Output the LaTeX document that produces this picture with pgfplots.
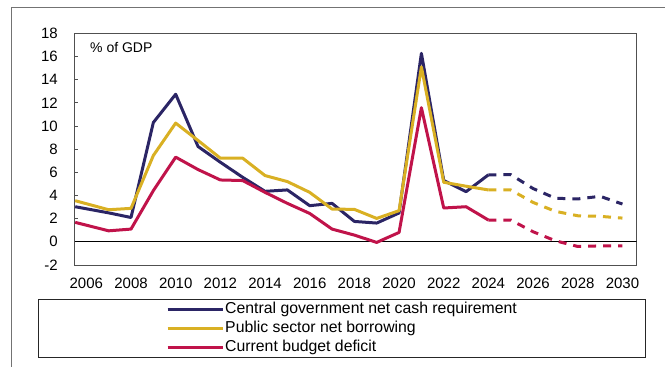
\documentclass[border=0pt]{standalone}
\usepackage{pgfplots}
\pgfplotsset{compat=1.18}
\usepackage{fontspec}
\setmainfont{Liberation Sans}
\definecolor{cgncr}{HTML}{2B2565}
\definecolor{psnb}{HTML}{D9B023}
\definecolor{cbd}{HTML}{C0134A}
\definecolor{framegray}{HTML}{505050}
\begin{document}
\begin{tikzpicture}
\useasboundingbox (0,0) rectangle (665bp,367bp);
\draw[framegray!80, line width=0.9bp] (11.7bp,-2bp) -- (11.7bp,360bp) -- (670bp,360bp);
\begin{axis}[
  at={(74.5bp,102bp)}, anchor=south west,
  scale only axis, width=562bp, height=231.7bp,
  xmin=2005.47, xmax=2030.63, ymin=-2, ymax=18,
  xtick={2006,2008,...,2030}, ytick={-2,0,...,18},
  /pgf/number format/assume math mode=true,
  /pgf/number format/1000 sep={},
  font=\fontsize{15bp}{18bp}\selectfont,
  ticklabel style={font=\fontsize{15bp}{18bp}\selectfont},
  yticklabel style={inner sep=0pt, anchor=east, xshift=-16.5bp},
  xticklabel style={inner sep=0pt, anchor=north, yshift=-13bp},
  ytick pos=left, tick align=inside, major tick length=3bp,
  xtick style={draw=none},
  ytick style={framegray, line width=0.8bp},
  axis line style={framegray, line width=0.9bp},
  legend style={at={(0.476,-0.1467)}, anchor=north, draw=black!85, line width=0.8bp,
    inner xsep=128bp, inner ysep=2bp, row sep=3bp,
    nodes={inner sep=1bp, text height=11bp, text depth=3bp},
    font=\fontsize{15.8bp}{18bp}\selectfont},
  legend cell align=left,
  legend image code/.code={\draw[#1, line width=3bp] (0bp,0bp) -- (55bp,0bp);},
  every axis plot/.append style={line width=3bp, line join=round},
  clip=true,
]
\draw[black, line width=0.8bp] (axis cs:2005.47,0) -- (axis cs:2030.63,0);
\addplot[cgncr] coordinates {(2005.5,3.03) (2007,2.5) (2008,2.1) (2009,10.3) (2010,12.74) (2011,8.23) (2012,6.87) (2013,5.57) (2014,4.36) (2015,4.48) (2016,3.12) (2017,3.32) (2018,1.76) (2019,1.62) (2020,2.49) (2021,16.27) (2022,5.29) (2023,4.33) (2024,5.78)};
\addlegendentry{Central government net cash requirement}
\addplot[psnb] coordinates {(2005.5,3.55) (2007,2.77) (2008,2.89) (2009,7.45) (2010,10.25) (2011,8.75) (2012,7.22) (2013,7.22) (2014,5.72) (2015,5.2) (2016,4.27) (2017,2.83) (2018,2.8) (2019,2.02) (2020,2.69) (2021,15.1) (2022,5.14) (2023,4.8) (2024,4.48)};
\addlegendentry{Public sector net borrowing}
\addplot[cbd] coordinates {(2005.5,1.68) (2007,0.95) (2008,1.1) (2009,4.42) (2010,7.31) (2011,6.24) (2012,5.34) (2013,5.29) (2014,4.27) (2015,3.32) (2016,2.45) (2017,1.1) (2018,0.58) (2019,-0.05) (2020,0.81) (2021,11.58) (2022,2.92) (2023,3.03) (2024,1.88)};
\addlegendentry{Current budget deficit}
\addplot[cgncr, dash pattern=on 8bp off 7bp, forget plot] coordinates {(2024,5.78) (2025,5.8) (2026,4.6) (2027,3.76) (2028,3.7) (2029,3.93) (2030,3.26)};
\addplot[psnb, dash pattern=on 8bp off 7bp, forget plot] coordinates {(2024,4.48) (2025,4.48) (2026,3.4) (2027,2.63) (2028,2.25) (2029,2.2) (2030,2.05)};
\addplot[cbd, dash pattern=on 8bp off 7bp, forget plot] coordinates {(2024,1.88) (2025,1.88) (2026,0.87) (2027,0.09) (2028,-0.4) (2029,-0.35) (2030,-0.35)};
\node[anchor=base west, inner sep=0pt, font=\fontsize{14bp}{16bp}\selectfont] at (axis description cs:0.0276,0.918) {\% of GDP};
\end{axis}
\end{tikzpicture}
\end{document}
